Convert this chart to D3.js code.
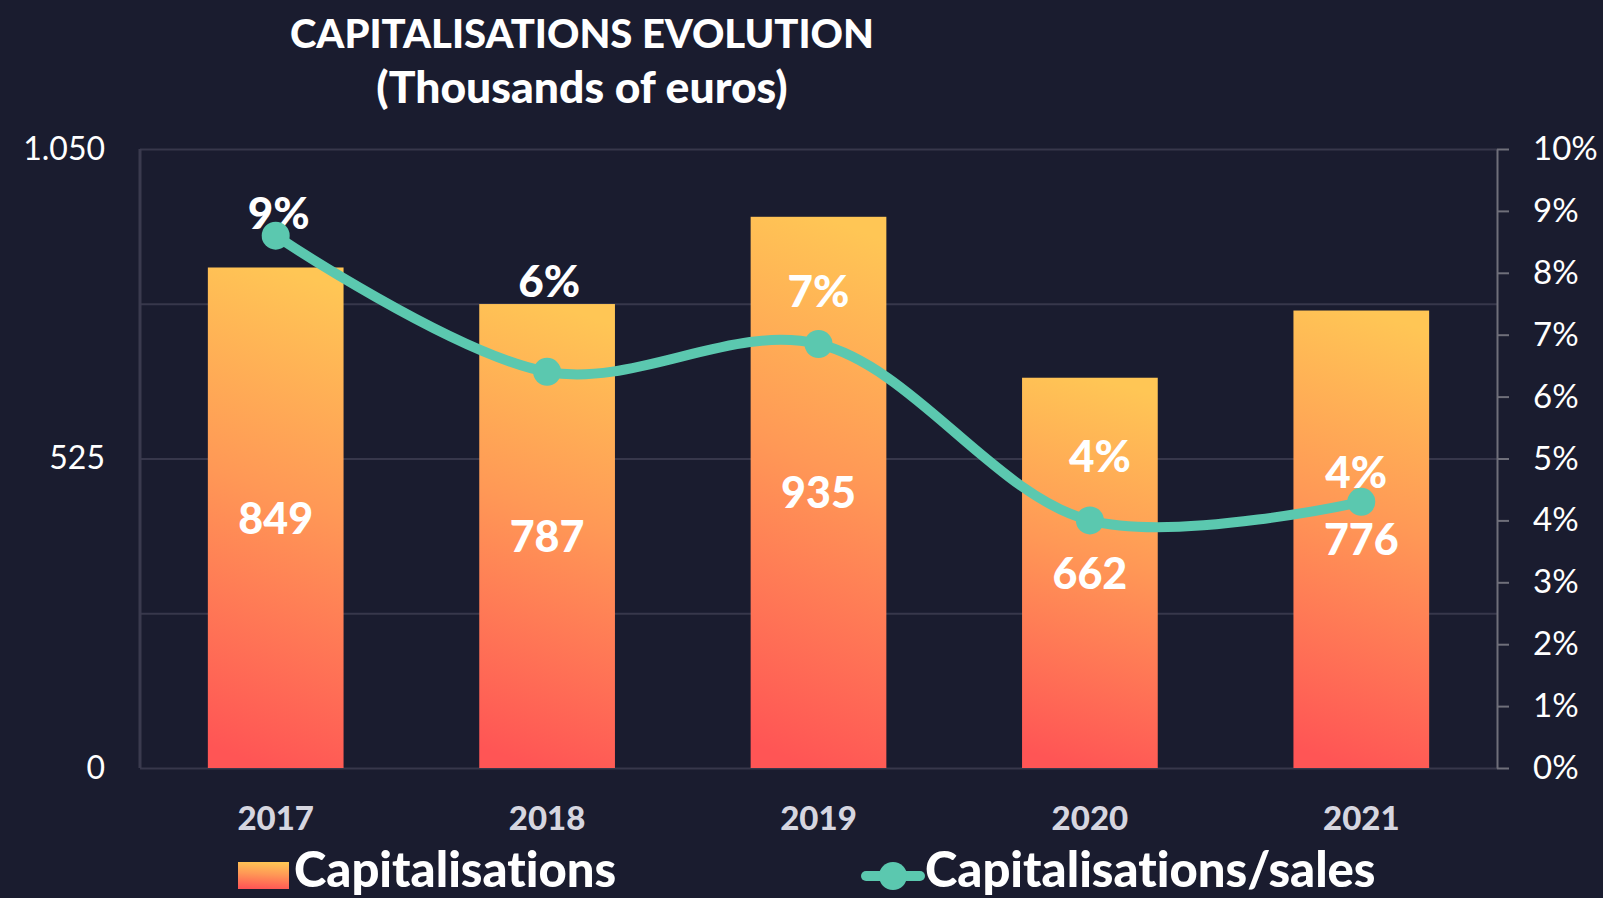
<!DOCTYPE html>
<html>
<head>
<meta charset="utf-8">
<script src="https://cdn.jsdelivr.net/npm/d3@7"></script>
<style>
  html, body { margin: 0; padding: 0; background: #1a1c2f; }
  svg { display: block; font-family: Lato, "Open Sans", sans-serif; font-variant-ligatures: none; }
</style>
</head>
<body>
<div class="canvas"></div>
<script>
const years = ["2017", "2018", "2019", "2020", "2021"];
const capitalisations = [849, 787, 935, 662, 776];
const capSalesRatio = [8.6, 6.4, 6.85, 4.0, 4.3];   // % of sales
const leftTicks = [0, 525, 1050];
const rightTicks = [0, 1, 2, 3, 4, 5, 6, 7, 8, 9, 10];

// small nudges for the % labels (dx, dy from the point), as in the original
const pctLabelNudge = [[3, -23], [2, -91], [0, -53], [10, -64], [-5, -30]];

const width = 1603, height = 898,
  plotLeft = 140, plotRight = 1497, plotTop = 149, plotBottom = 768;

const euro = d3.formatLocale({decimal: ",", thousands: ".", grouping: [3], currency: ["", "€"]});
const fmtK = euro.format(",");

const svg = d3.select(".canvas")
  .append("svg")
  .attr("width", width)
  .attr("height", height)
  .style("background-color", "#1a1c2f");

const defs = svg.append("defs");
const grad = defs.append("linearGradient")
  .attr("id", "barGrad")
  .attr("x1", 0.45).attr("y1", 1)
  .attr("x2", 0.55).attr("y2", 0);
grad.append("stop").attr("offset", "0%").attr("stop-color", "#ff5555");
grad.append("stop").attr("offset", "55%").attr("stop-color", "#ff9856");
grad.append("stop").attr("offset", "100%").attr("stop-color", "#ffc655");

const x = d3.scaleBand()
  .domain(years)
  .range([plotLeft, plotRight])
  .paddingInner(0.5)
  .paddingOuter(0.25);

const yL = d3.scaleLinear().domain([0, 1050]).range([plotBottom, plotTop]);
const yR = d3.scaleLinear().domain([0, 10]).range([plotBottom, plotTop]);

// title
const title = svg.append("text")
  .attr("text-anchor", "middle")
  .attr("fill", "#ffffff")
  .style("font-weight", 900);
title.append("tspan").attr("x", 582).attr("y", 48).style("font-size", "40px").text("CAPITALISATIONS EVOLUTION");
title.append("tspan").attr("x", 582).attr("y", 103).style("font-size", "44.5px").text("(Thousands of euros)");

// gridlines
svg.append("g")
  .attr("transform", `translate(${plotLeft},0)`)
  .call(d3.axisLeft(yL).tickValues(d3.range(0, 1051, 262.5)).tickSize(-(plotRight - plotLeft)).tickFormat(""))
  .call(g => g.select(".domain").remove())
  .call(g => g.selectAll("line").attr("stroke", "#37374b").attr("stroke-width", 2));

svg.append("line")
  .attr("x1", plotLeft).attr("x2", plotLeft)
  .attr("y1", plotTop).attr("y2", plotBottom)
  .attr("stroke", "#3a3a4e").attr("stroke-width", 3);

// left axis
svg.append("g")
  .attr("id", "y-axis")
  .attr("transform", `translate(${plotLeft},0)`)
  .call(d3.axisLeft(yL).tickValues(leftTicks).tickFormat(fmtK).tickSize(0).tickPadding(35))
  .call(g => g.select(".domain").remove())
  .call(g => g.selectAll("text")
    .attr("fill", "#ffffff")
    .style("font-family", "Lato, sans-serif")
    .style("font-size", "32px"));

// right axis
svg.append("g")
  .attr("id", "y2-axis")
  .attr("transform", `translate(${plotRight},0)`)
  .call(d3.axisRight(yR).tickValues(rightTicks).tickFormat(d => d + "%").tickSize(12).tickSizeOuter(0).tickPadding(24))
  .call(g => g.select(".domain").attr("stroke", "#6f6f7a").attr("stroke-width", 2))
  .call(g => g.selectAll("line").attr("stroke", "#6f6f7a").attr("stroke-width", 2))
  .call(g => g.selectAll("text")
    .attr("fill", "#ffffff")
    .style("font-family", "Lato, sans-serif")
    .style("font-size", "33px"));

// x axis (labels only)
svg.append("g")
  .attr("id", "x-axis")
  .attr("transform", `translate(0,${plotBottom})`)
  .call(d3.axisBottom(x).tickSize(0).tickPadding(0))
  .call(g => g.select(".domain").remove())
  .call(g => g.selectAll("text")
    .attr("y", 62)
    .attr("dy", 0)
    .attr("fill", "#d6d6e0")
    .style("font-family", "Lato, sans-serif")
    .style("font-weight", 900)
    .style("font-size", "33px"));

// bars
svg.selectAll("rect.bar")
  .data(capitalisations)
  .enter()
  .append("rect")
  .attr("class", "bar")
  .attr("x", (d, i) => x(years[i]))
  .attr("y", d => yL(d))
  .attr("width", x.bandwidth())
  .attr("height", d => plotBottom - yL(d))
  .attr("fill", "url(#barGrad)");

svg.selectAll("text.val")
  .data(capitalisations)
  .enter()
  .append("text")
  .attr("class", "val")
  .attr("x", (d, i) => x(years[i]) + x.bandwidth() / 2)
  .attr("y", d => (yL(d) + plotBottom) / 2 + 16)
  .attr("text-anchor", "middle")
  .attr("fill", "#ffffff")
  .style("font-weight", 900)
  .style("font-size", "43px")
  .text(d => fmtK(d));

// ratio line
const cx = i => x(years[i]) + x.bandwidth() / 2;
const line = d3.line()
  .x((d, i) => cx(i))
  .y(d => yR(d))
  .curve(d3.curveCatmullRom.alpha(0.5));

svg.append("path")
  .datum(capSalesRatio)
  .attr("d", line)
  .attr("fill", "none")
  .attr("stroke", "#5bc8af")
  .attr("stroke-width", 10)
  .attr("stroke-linecap", "round");

svg.selectAll("text.pct")
  .data(capSalesRatio)
  .enter()
  .append("text")
  .attr("class", "pct")
  .attr("x", (d, i) => cx(i) + pctLabelNudge[i][0])
  .attr("y", (d, i) => yR(d) + pctLabelNudge[i][1] + 16)
  .attr("text-anchor", "middle")
  .attr("fill", "#ffffff")
  .style("font-weight", 900)
  .style("font-size", "44px")
  .text(d => Math.round(d) + "%");

svg.selectAll("circle.pt")
  .data(capSalesRatio)
  .enter()
  .append("circle")
  .attr("class", "pt")
  .attr("cx", (d, i) => cx(i))
  .attr("cy", d => yR(d))
  .attr("r", 14)
  .attr("fill", "#5bc8af");

// legend
const legend = svg.append("g").style("font-weight", 900).style("font-size", "49px");
legend.append("rect")
  .attr("x", 238).attr("y", 862)
  .attr("width", 51).attr("height", 27)
  .attr("fill", "url(#barGrad)");
legend.append("text")
  .attr("x", 294).attr("y", 887)
  .attr("fill", "#ffffff")
  .text("Capitalisations");

legend.append("line")
  .attr("x1", 866).attr("x2", 920)
  .attr("y1", 876).attr("y2", 876)
  .attr("stroke", "#5bc8af").attr("stroke-width", 10)
  .attr("stroke-linecap", "round");
legend.append("circle")
  .attr("cx", 893).attr("cy", 876).attr("r", 14)
  .attr("fill", "#5bc8af");
legend.append("text")
  .attr("x", 925).attr("y", 887)
  .attr("fill", "#ffffff")
  .text("Capitalisations/sales");
</script>
</body>
</html>
